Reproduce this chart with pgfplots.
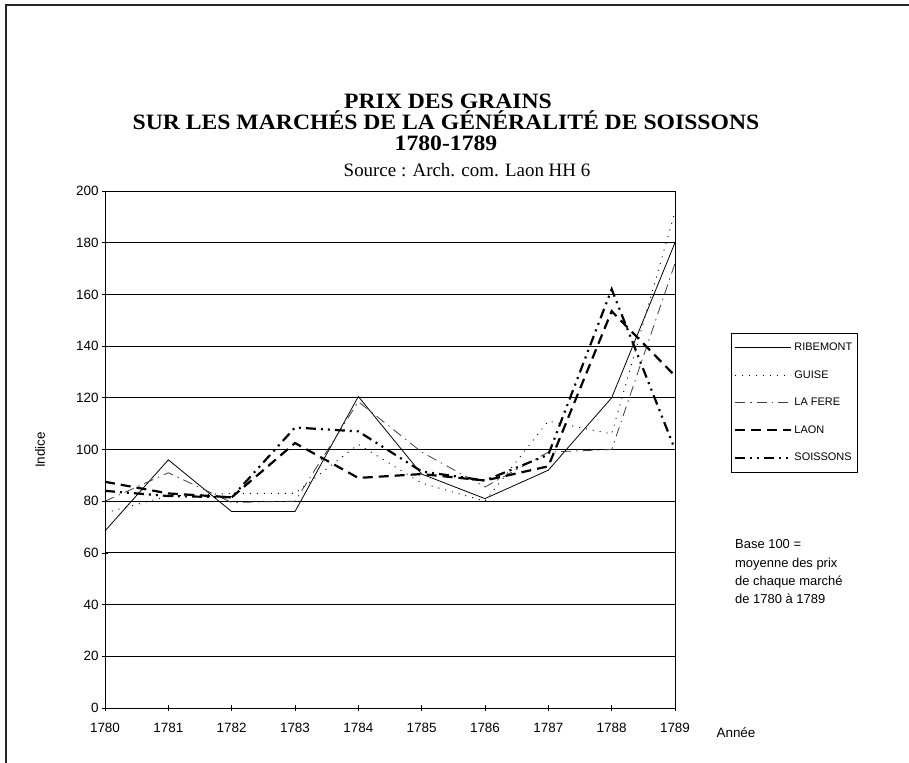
\documentclass[border=0pt]{standalone}
\usepackage{pgfplots}
\pgfplotsset{compat=1.18}
\usepackage{fontspec}
\setmainfont{Liberation Serif}
\setsansfont{Liberation Sans}
\newfontfamily\titlefont[FakeStretch=1.08]{Liberation Serif}
\pgfplotstableread{
year rib gui laf lao soi
1780 68.5 75.5 80   87.5 84
1781 96   82   91   83   82
1782 76   83   79.5 81.5 81.5
1783 76   83   80   102.5 108.5
1784 120.5 102 118.5 89  107
1785 90.5 87   99   90.5 91.5
1786 81   80   85.5 88   88
1787 92   111  99   93.5 98
1788 120  106  100  153.5 162
1789 180  192  172  128.5 100
}\datatable
\begin{document}
\begin{tikzpicture}
\path[use as bounding box] (0,0) rectangle (909bp,763bp);
\draw[line width=1.4bp, black!85] (6bp,0) -- (6bp,758bp) -- (909bp,758bp);
% titles
\node[anchor=base, font=\titlefont\bfseries\fontsize{22}{26}\selectfont] at (448bp,654bp) {PRIX DES GRAINS};
\node[anchor=base, font=\titlefont\bfseries\fontsize{22}{26}\selectfont] at (446bp,633bp) {SUR LES MARCHÉS DE LA GÉNÉRALITÉ DE SOISSONS};
\node[anchor=base, font=\titlefont\bfseries\fontsize{22}{26}\selectfont] at (446bp,612bp) {1780-1789};
\node[anchor=base, font=\fontsize{19}{23}\selectfont] at (467bp,586bp) {Source : Arch. com. Laon HH 6};
\begin{axis}[
  at={(105bp,55bp)}, anchor=south west,
  width=570bp, height=517bp, scale only axis,
  xmin=1780, xmax=1789, ymin=0, ymax=200,
  xtick={1780,1781,...,1789}, ytick={0,20,...,200},
  xtick pos=bottom, ytick pos=left, tick align=center,
  major tick length=6bp,
  ymajorgrids, grid style={black, line width=0.8bp},
  axis line style={black, line width=0.8bp},
  every tick/.style={black, line width=0.6bp},
  /pgf/number format/1000 sep={},
  /pgf/number format/assume math mode=true,
  ticklabel style={font=\sffamily\fontsize{13.5}{16}\selectfont},
  xticklabel style={yshift=-9bp},
  yticklabel style={xshift=0bp},
  legend style={at={(1.098,0.7253)}, anchor=north west, draw=black, line width=0.8bp,
    font=\sffamily\fontsize{11}{13}\selectfont, inner xsep=3bp, inner ysep=7.5bp,
    row sep=14.5bp, cells={anchor=west}},
  legend image code/.code={\draw[#1] (0bp,0bp) -- (56bp,0bp);},
  clip=false,
]
\addplot[black, line width=0.8bp] table[x=year,y=rib] {\datatable};
\addlegendentry{RIBEMONT}
\addplot[black, line width=0.9bp, dash pattern=on 1bp off 6bp] table[x=year,y=gui] {\datatable};
\addlegendentry{GUISE}
\addplot[black!75, line width=0.8bp, dash pattern=on 10bp off 5bp on 1.5bp off 5bp] table[x=year,y=laf] {\datatable};
\addlegendentry{LA FERE}
\addplot[black, line width=2.2bp, dash pattern=on 10bp off 6bp] table[x=year,y=lao] {\datatable};
\addlegendentry{LAON}
\addplot[black, line width=2.2bp, dash pattern=on 10bp off 5bp on 2bp off 5bp on 2bp off 5bp] table[x=year,y=soi] {\datatable};
\addlegendentry{SOISSONS}
\end{axis}
\node[anchor=base, font=\sffamily\fontsize{13.5}{16}\selectfont] at (736bp,26bp) {Année};
\node[rotate=90, font=\sffamily\fontsize{13.5}{16}\selectfont] at (40bp,313bp) {Indice};
\node[anchor=base west, align=left, font=\sffamily\fontsize{13}{18.5}\selectfont, inner sep=0pt] at (735bp,159bp) {Base 100 =\\moyenne des prix\\de chaque marché\\de 1780 à 1789};
\end{tikzpicture}
\end{document}
